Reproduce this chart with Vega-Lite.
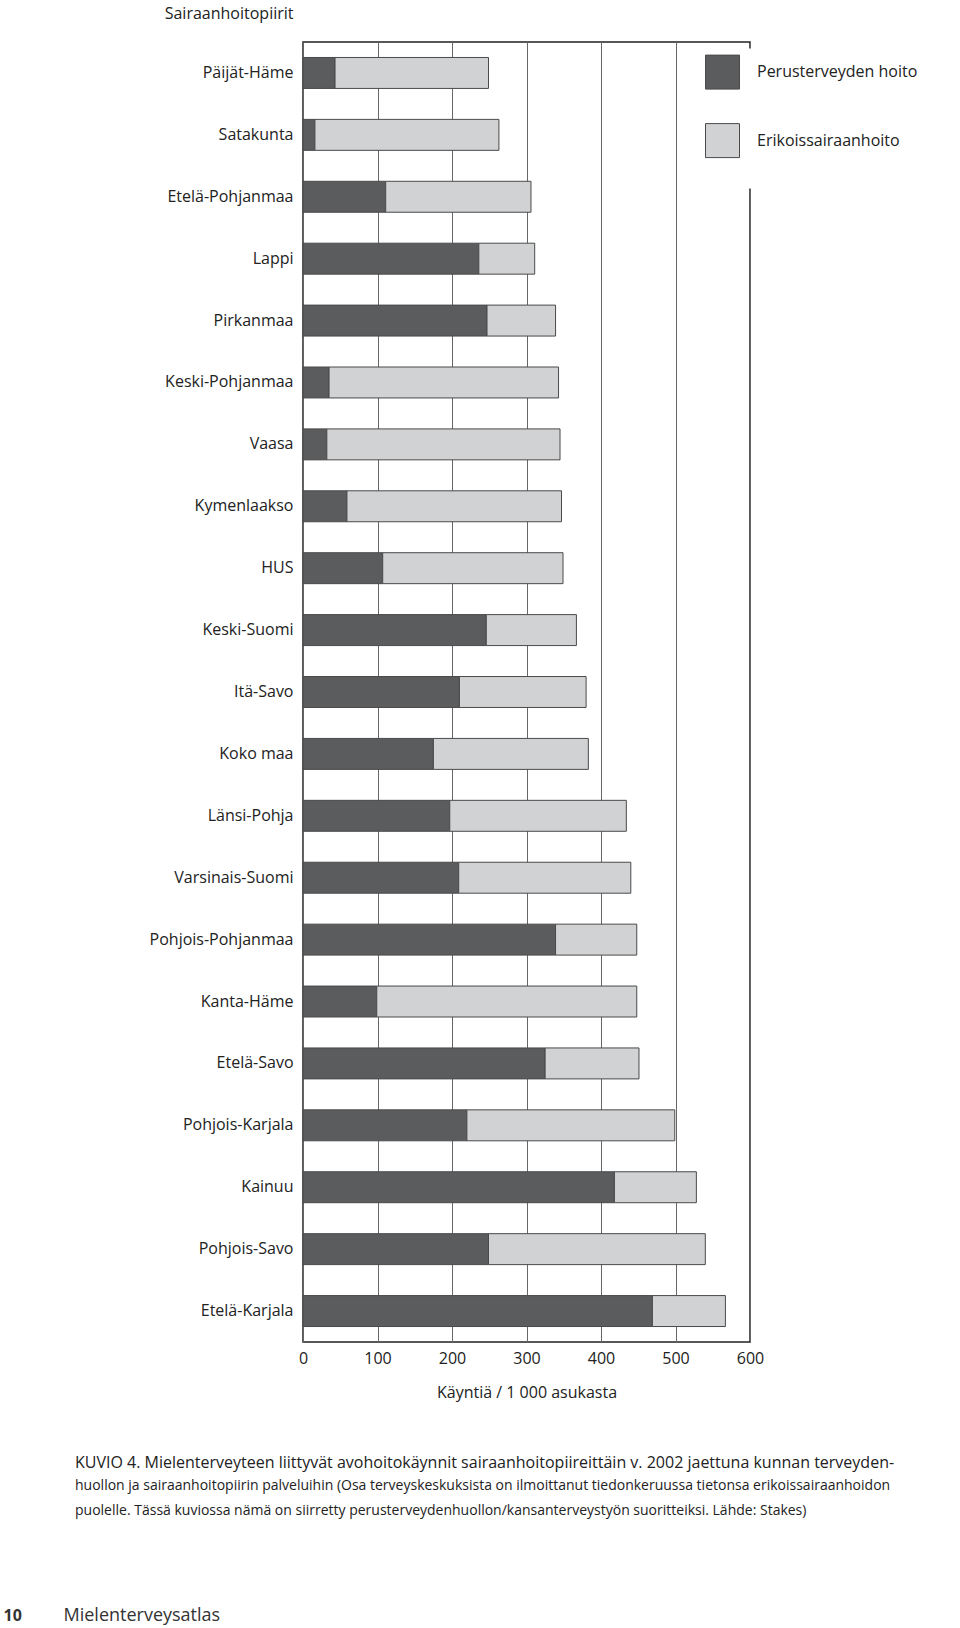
{
  "$schema": "https://vega.github.io/schema/vega-lite/v6.json",
  "width": 447,
  "height": 1300,
  "autosize": {"type": "none"},
  "padding": {"left": 303, "top": 42, "right": 210, "bottom": 286},
  "background": "white",
  "config": {
    "font": "Open Sans",
    "view": {"stroke": "#222222", "strokeWidth": 1.5}
  },
  "title": {
    "text": "KUVIO 4. Mielenterveyteen liittyvät avohoitokäynnit sairaanhoitopiireittäin v. 2002 jaettuna kunnan terveyden-",
    "subtitle": [
      "huollon ja sairaanhoitopiirin palveluihin (Osa terveyskeskuksista on ilmoittanut tiedonkeruussa tietonsa erikoissairaanhoidon",
      "puolelle. Tässä kuviossa nämä on siirretty perusterveydenhuollon/kansanterveystyön suoritteiksi. Lähde: Stakes)"
    ],
    "orient": "bottom",
    "anchor": "start",
    "frame": "group",
    "dx": -228,
    "offset": -169,
    "font": "Open Sans",
    "fontSize": 16,
    "fontWeight": "normal",
    "color": "#222222",
    "subtitleFont": "Open Sans",
    "subtitleFontSize": 14,
    "subtitleColor": "#222222",
    "subtitlePadding": 8,
    "subtitleLineHeight": 25
  },
  "layer": [
    {
      "data": {
        "values": [
          {"region": "Päijät-Häme", "type": "Perusterveyden hoito", "value": 43},
          {"region": "Päijät-Häme", "type": "Erikoissairaanhoito", "value": 206},
          {"region": "Satakunta", "type": "Perusterveyden hoito", "value": 16},
          {"region": "Satakunta", "type": "Erikoissairaanhoito", "value": 247},
          {"region": "Etelä-Pohjanmaa", "type": "Perusterveyden hoito", "value": 111},
          {"region": "Etelä-Pohjanmaa", "type": "Erikoissairaanhoito", "value": 195},
          {"region": "Lappi", "type": "Perusterveyden hoito", "value": 236},
          {"region": "Lappi", "type": "Erikoissairaanhoito", "value": 75},
          {"region": "Pirkanmaa", "type": "Perusterveyden hoito", "value": 247},
          {"region": "Pirkanmaa", "type": "Erikoissairaanhoito", "value": 92},
          {"region": "Keski-Pohjanmaa", "type": "Perusterveyden hoito", "value": 35},
          {"region": "Keski-Pohjanmaa", "type": "Erikoissairaanhoito", "value": 308},
          {"region": "Vaasa", "type": "Perusterveyden hoito", "value": 32},
          {"region": "Vaasa", "type": "Erikoissairaanhoito", "value": 313},
          {"region": "Kymenlaakso", "type": "Perusterveyden hoito", "value": 59},
          {"region": "Kymenlaakso", "type": "Erikoissairaanhoito", "value": 288},
          {"region": "HUS", "type": "Perusterveyden hoito", "value": 107},
          {"region": "HUS", "type": "Erikoissairaanhoito", "value": 242},
          {"region": "Keski-Suomi", "type": "Perusterveyden hoito", "value": 246},
          {"region": "Keski-Suomi", "type": "Erikoissairaanhoito", "value": 121},
          {"region": "Itä-Savo", "type": "Perusterveyden hoito", "value": 210},
          {"region": "Itä-Savo", "type": "Erikoissairaanhoito", "value": 170},
          {"region": "Koko maa", "type": "Perusterveyden hoito", "value": 175},
          {"region": "Koko maa", "type": "Erikoissairaanhoito", "value": 208},
          {"region": "Länsi-Pohja", "type": "Perusterveyden hoito", "value": 197},
          {"region": "Länsi-Pohja", "type": "Erikoissairaanhoito", "value": 237},
          {"region": "Varsinais-Suomi", "type": "Perusterveyden hoito", "value": 209},
          {"region": "Varsinais-Suomi", "type": "Erikoissairaanhoito", "value": 231},
          {"region": "Pohjois-Pohjanmaa", "type": "Perusterveyden hoito", "value": 339},
          {"region": "Pohjois-Pohjanmaa", "type": "Erikoissairaanhoito", "value": 109},
          {"region": "Kanta-Häme", "type": "Perusterveyden hoito", "value": 99},
          {"region": "Kanta-Häme", "type": "Erikoissairaanhoito", "value": 349},
          {"region": "Etelä-Savo", "type": "Perusterveyden hoito", "value": 325},
          {"region": "Etelä-Savo", "type": "Erikoissairaanhoito", "value": 126},
          {"region": "Pohjois-Karjala", "type": "Perusterveyden hoito", "value": 220},
          {"region": "Pohjois-Karjala", "type": "Erikoissairaanhoito", "value": 279},
          {"region": "Kainuu", "type": "Perusterveyden hoito", "value": 418},
          {"region": "Kainuu", "type": "Erikoissairaanhoito", "value": 110},
          {"region": "Pohjois-Savo", "type": "Perusterveyden hoito", "value": 249},
          {"region": "Pohjois-Savo", "type": "Erikoissairaanhoito", "value": 291},
          {"region": "Etelä-Karjala", "type": "Perusterveyden hoito", "value": 469},
          {"region": "Etelä-Karjala", "type": "Erikoissairaanhoito", "value": 98}
        ]
      },
      "mark": {"type": "bar", "stroke": "#4a4a4a", "strokeWidth": 1},
      "encoding": {
        "y": {
          "field": "region",
          "type": "nominal",
          "sort": ["Päijät-Häme", "Satakunta", "Etelä-Pohjanmaa", "Lappi", "Pirkanmaa", "Keski-Pohjanmaa", "Vaasa", "Kymenlaakso", "HUS", "Keski-Suomi", "Itä-Savo", "Koko maa", "Länsi-Pohja", "Varsinais-Suomi", "Pohjois-Pohjanmaa", "Kanta-Häme", "Etelä-Savo", "Pohjois-Karjala", "Kainuu", "Pohjois-Savo", "Etelä-Karjala"],
          "scale": {"paddingInner": 0.5, "paddingOuter": 0.25},
          "axis": {
            "title": "Sairaanhoitopiirit",
            "titleAngle": 0,
            "titleAlign": "right",
            "titleBaseline": "middle",
            "titleX": -10,
            "titleY": -29,
            "titleFont": "Open Sans",
            "titleFontSize": 16,
            "titleFontWeight": "normal",
            "titleColor": "#222222",
            "labelFont": "Open Sans",
            "labelFontSize": 16,
            "labelColor": "#222222",
            "labelPadding": 10,
            "labelLimit": 300,
            "ticks": false,
            "domain": false
          }
        },
        "x": {
          "field": "value",
          "type": "quantitative",
          "stack": "zero",
          "scale": {"domain": [0, 600], "nice": false},
          "axis": {
            "values": [0, 100, 200, 300, 400, 500, 600],
            "grid": true,
            "gridColor": "#666666",
            "gridWidth": 1,
            "ticks": false,
            "domain": false,
            "labelFlush": false,
            "labelOverlap": false,
            "labelFont": "Open Sans",
            "labelFontSize": 16,
            "labelColor": "#222222",
            "labelPadding": 8,
            "title": "Käyntiä / 1 000 asukasta",
            "titleFont": "Open Sans",
            "titleFontSize": 16,
            "titleFontWeight": "normal",
            "titleColor": "#222222",
            "titlePadding": 18
          }
        },
        "color": {
          "field": "type",
          "type": "nominal",
          "scale": {"domain": ["Perusterveyden hoito", "Erikoissairaanhoito"], "range": ["#5b5c5e", "#d1d2d4"]},
          "legend": {
            "orient": "none",
            "legendX": 396,
            "legendY": 6.6,
            "direction": "vertical",
            "fillColor": "white",
            "padding": 6,
            "symbolType": "square",
            "symbolSize": 1156,
            "symbolStrokeColor": "#4a4a4a",
            "symbolStrokeWidth": 1,
            "symbolOpacity": 1,
            "labelFont": "Open Sans",
            "labelFontSize": 16,
            "labelColor": "#222222",
            "labelOffset": 17,
            "labelLimit": 300,
            "rowPadding": 29.5,
            "title": "\u00a0",
            "titleOrient": "bottom",
            "titleFontSize": 15,
            "titlePadding": 8
          }
        },
        "order": {"field": "type", "sort": "descending"}
      }
    },
    {
      "data": {"values": [{"v": 0}]},
      "mark": {"type": "rule", "opacity": 0},
      "encoding": {
        "x": {
          "field": "v",
          "type": "quantitative",
          "axis": {
            "orient": "top",
            "labels": false,
            "ticks": false,
            "domain": false,
            "grid": false,
            "title": "Mielenterveysatlas",
            "titleX": -240,
            "titleY": 1573,
            "titleAlign": "left",
            "titleBaseline": "middle",
            "titleAngle": 0,
            "titleFont": "Open Sans",
            "titleFontSize": 18,
            "titleFontWeight": "normal",
            "titleColor": "#333333"
          }
        }
      }
    },
    {
      "data": {"values": [{"v": 0}]},
      "mark": {"type": "rule", "opacity": 0},
      "encoding": {
        "y": {
          "field": "v",
          "type": "quantitative",
          "axis": {
            "orient": "right",
            "labels": false,
            "ticks": false,
            "domain": false,
            "grid": false,
            "title": "10",
            "titleX": -747,
            "titleY": 1573,
            "titleAlign": "left",
            "titleBaseline": "middle",
            "titleAngle": 0,
            "titleFont": "Open Sans",
            "titleFontSize": 16,
            "titleFontWeight": "bold",
            "titleColor": "#333333"
          }
        }
      }
    }
  ],
  "resolve": {"scale": {"x": "independent", "y": "independent", "color": "independent"}}
}
